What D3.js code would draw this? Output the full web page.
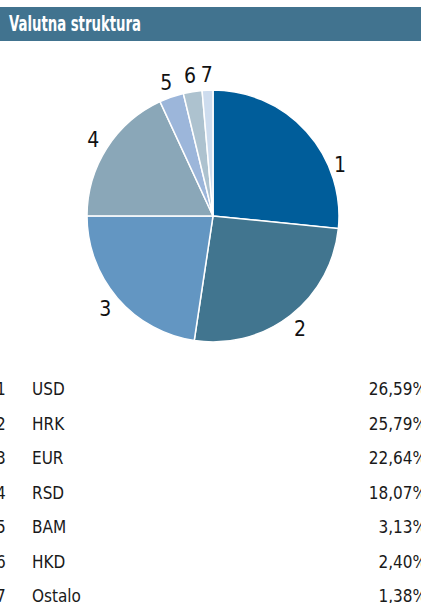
<!DOCTYPE html>
<html>
<head>
<meta charset="utf-8">
<script src="https://cdn.jsdelivr.net/npm/d3@7"></script>
<style>
  body{margin:0;background:#fff;}
  svg{display:block;font-family:"Liberation Sans Narrow","DejaVu Sans Condensed",sans-serif;}
</style>
</head>
<body>
<div id="chart"></div>
<script>
const title = "Valutna struktura";
const ids = ["1","2","3","4","5","6","7"];
const currencies = ["USD","HRK","EUR","RSD","BAM","HKD","Ostalo"];
const shares = [26.59,25.79,22.64,18.07,3.13,2.40,1.38];
const colors = ["#005d9a","#41758f","#6396c2","#8aa7b8","#9cb6da","#adc2cf","#cddcee"];

const opt={width:421,height:603,cx:213,cy:216,r:126,labelR:142,rowTop:389,rowStep:34.5}

const svg=d3.select("#chart")
  .append("svg")
  .attr("width",opt.width)
  .attr("height",opt.height)

// header bar
svg.append("rect")
  .attr("x",0).attr("y",7)
  .attr("width",opt.width).attr("height",34)
  .attr("fill","#41738f")
svg.append("text")
  .attr("x",9).attr("y",31)
  .attr("fill","#fff")
  .attr("font-size","21px")
  .attr("font-weight","bold")
  .attr("textLength",132)
  .attr("lengthAdjust","spacingAndGlyphs")
  .text(title)

const data=shares.map((v,i)=>({id:ids[i],name:currencies[i],value:v}))

const pie=d3.pie().sort(null).value(d=>d.value)
const arcs=pie(data)
const arc=d3.arc().innerRadius(0).outerRadius(opt.r)

const g=svg.append("g")
  .attr("transform","translate("+opt.cx+","+opt.cy+")")

g.selectAll("path")
  .data(arcs)
  .enter()
  .append("path")
  .attr("d",arc)
  .attr("fill",(d,i)=>colors[i])
  .attr("stroke","#fff")
  .attr("stroke-width",1.5)

// label 1 sits further round the slice in the original
const shift={0:0.35}
g.selectAll("text.lbl")
  .data(arcs)
  .enter()
  .append("text")
  .attr("class","lbl")
  .attr("x",(d,i)=>{
    const a=(d.startAngle+d.endAngle)/2+(shift[i]||0);
    const rr=i==0?137:opt.labelR;
    return rr*Math.sin(a);
  })
  .attr("y",(d,i)=>{
    const a=(d.startAngle+d.endAngle)/2+(shift[i]||0);
    const rr=i==0?137:opt.labelR;
    return -rr*Math.cos(a);
  })
  .attr("dy","0.36em")
  .attr("text-anchor","middle")
  .attr("font-size","21px")
  .attr("fill","#111")
  .text(d=>d.data.id)

// legend table
const rowY=d3.scaleLinear().domain([0,1]).range([opt.rowTop,opt.rowTop+opt.rowStep])
const fmt=v=>v.toFixed(2).replace(".",",")+"%"

const rows=svg.selectAll("g.row")
  .data(data)
  .enter()
  .append("g")
  .attr("class","row")
  .attr("transform",(d,i)=>"translate(0,"+rowY(i)+")")
  .attr("font-size","17px")
  .attr("fill","#1a1a1a")

rows.append("text").attr("x",-4).attr("dy","0.36em").text(d=>d.id)
rows.append("text").attr("x",32).attr("dy","0.36em").text(d=>d.name)
rows.append("text").attr("x",427).attr("dy","0.36em").attr("text-anchor","end").text(d=>fmt(d.value))
</script>
</body>
</html>
